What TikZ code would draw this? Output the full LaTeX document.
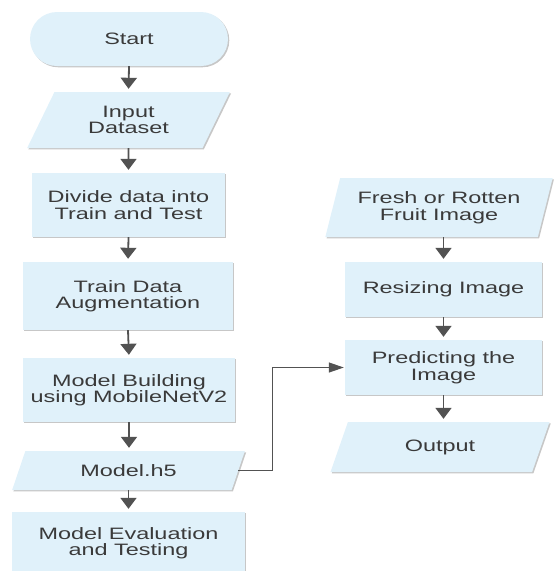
\documentclass[tikz,border=0pt]{standalone}
\usepackage{fontspec}
\setmainfont[FakeStretch=1.42]{Liberation Sans}
\usetikzlibrary{arrows.meta,shapes.geometric,shadows}
\definecolor{boxfill}{RGB}{224,241,250}
\definecolor{txt}{RGB}{58,58,58}
\definecolor{wire}{RGB}{82,82,82}
\begin{document}
\begin{tikzpicture}[x=1pt,y=-1pt,
  base/.style={fill=boxfill, text=txt, align=center, inner sep=0pt,
    font=\fontsize{16.5}{16.5}\selectfont,
    drop shadow={shadow xshift=1.3pt, shadow yshift=-1.3pt, fill=black, opacity=0.22}},
  procbox/.style={base, rectangle},
  termbox/.style={base, rectangle, rounded corners=27pt},
  iobox/.style={base, trapezium, trapezium stretches=true,
    trapezium left angle=#1, trapezium right angle=180-#1},
  flow/.style={draw=wire, line width=1.8pt, -{Triangle[width=16pt,length=11pt]}, shorten >=3pt},
  link/.style={draw=wire, line width=1.2pt, -{Triangle[width=10pt,length=15pt]}, shorten >=1pt}
]
\useasboundingbox (0,0) rectangle (554,571);

% left column
\node[termbox, minimum width=198pt, minimum height=54pt] (start) at (129,39) {Start};
\node[iobox=62, minimum width=203pt, minimum height=56pt] (data) at (128.5,120) {Input\\Dataset};
\node[procbox, minimum width=193pt, minimum height=64pt] (split) at (128.5,205) {Divide data into\\Train and Test};
\node[procbox, minimum width=210pt, minimum height=68pt] (aug) at (128,296) {Train Data\\Augmentation};
\node[procbox, minimum width=212pt, minimum height=64pt] (build) at (129,390) {Model Building\\using MobileNetV2};
\node[iobox=63, minimum width=233pt, minimum height=39pt] (h5) at (128.5,470.5) {Model.h5};
\node[procbox, minimum width=233pt, minimum height=62pt] (eval) at (128.5,543) {Model Evaluation\\and Testing};

% right column
\node[iobox=69, minimum width=228pt, minimum height=59pt] (fruit) at (439,207.5) {Fresh or Rotten\\Fruit Image};
\node[procbox, minimum width=197pt, minimum height=55pt] (resize) at (443.5,289.5) {Resizing Image};
\node[procbox, minimum width=197pt, minimum height=55pt] (pred) at (443.5,367.5) {Predicting the\\Image};
\node[iobox=66, minimum width=220pt, minimum height=50pt] (out) at (440,447) {Output};

% connectors
\draw[flow] (start.south) -- (data.south |- data.north);
\draw[flow] (data.south) -- (split.north);
\draw[flow] (split.south) -- (aug.north);
\draw[flow] (aug.south) -- (build.north);
\draw[flow] (build.south) -- (build.south |- h5.north);
\draw[flow] (h5.south) -- (h5.south |- eval.north);

\draw[flow] (fruit.south -| resize.north) -- (resize.north);
\draw[flow] (resize.south) -- (pred.north);
\draw[flow] (pred.south) -- (pred.south |- out.north);

\draw[link] (h5.east) -- ++(34,0) |- (pred.west);
\end{tikzpicture}
\end{document}
